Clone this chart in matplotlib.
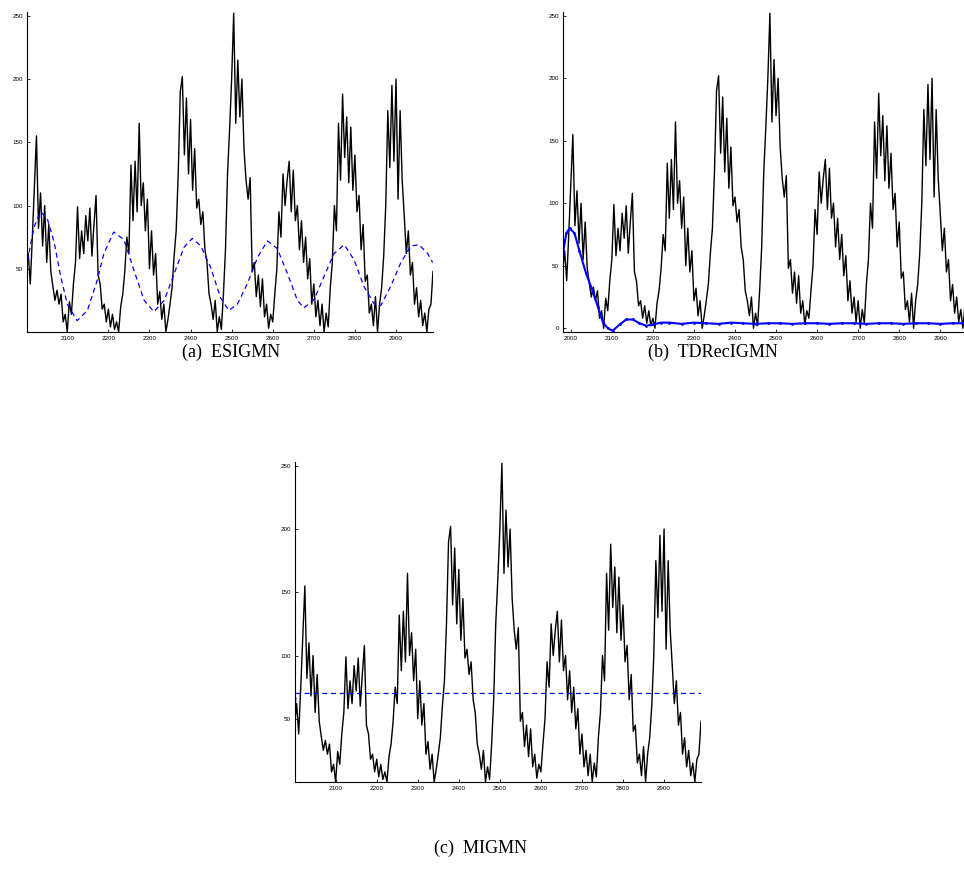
import numpy as np
import matplotlib
matplotlib.use("Agg")
import matplotlib.pyplot as plt

# observed series, sampled every 5 steps starting at t = 2000
t_start = 2000
t_step = 5
observed = [
    45, 62, 38, 75, 115, 155, 82, 110, 68, 100,
    55, 85, 48, 36, 25, 33, 22, 30, 8, 14,
    0, 24, 14, 38, 55, 99, 58, 80, 62, 92,
    72, 98, 60, 85, 108, 45, 38, 18, 22, 8,
    18, 4, 14, 2, 8, 0, 20, 30, 48, 75,
    62, 132, 88, 135, 95, 165, 100, 118, 80, 105,
    50, 80, 45, 62, 22, 32, 10, 22, 0, 10,
    22, 35, 60, 80, 125, 190, 202, 140, 185, 125,
    168, 112, 145, 98, 105, 85, 95, 65, 55, 30,
    22, 10, 25, 0, 12, 2, 30, 65, 125, 160,
    200, 252, 165, 215, 170, 200, 145, 120, 105, 122,
    48, 55, 28, 45, 20, 42, 12, 22, 3, 14,
    8, 30, 50, 95, 75, 125, 100, 120, 135, 95,
    128, 88, 100, 65, 88, 55, 75, 42, 58, 22,
    38, 12, 25, 5, 22, 0, 15, 4, 35, 55,
    100, 80, 165, 120, 188, 138, 170, 118, 162, 112,
    140, 95, 108, 65, 85, 40, 45, 15, 22, 5,
    28, 0, 22, 35, 60, 100, 175, 130, 195, 135,
    200, 105, 175, 120, 92, 62, 80, 45, 55, 22,
    35, 12, 25, 5, 15, 0, 18, 22, 48,
]

# ESIGMN prediction
esigmn_t = [2003, 2019, 2035, 2051, 2068, 2084, 2100, 2124, 2149, 2173,
            2189, 2213, 2238, 2262, 2287, 2311, 2336, 2360, 2384, 2404,
            2425, 2449, 2473, 2493, 2514, 2538, 2563, 2587, 2611, 2636,
            2660, 2676, 2701, 2725, 2749, 2774, 2798, 2822, 2847, 2863,
            2887, 2912, 2936, 2956, 2977, 2989]
esigmn_y = [56, 83, 95, 90, 71, 44, 22, 9, 17, 41,
            62, 79, 73, 49, 25, 16, 25, 46, 67, 74,
            68, 51, 27, 17, 22, 38, 59, 72, 66, 46,
            25, 19, 26, 44, 62, 69, 57, 36, 22, 21,
            36, 55, 68, 69, 62, 55]

# TDRecIGMN prediction (panel b has its own time axis)
tdrec_t = [1981, 1989, 1997, 2009, 2021, 2037, 2053, 2066, 2078, 2090,
           2102, 2119, 2135, 2151, 2167, 2184, 2200, 2220, 2240, 2270,
           2300, 2330, 2360, 2390, 2420, 2450, 2480, 2510, 2540, 2570,
           2600, 2630, 2660, 2690, 2720, 2750, 2780, 2810, 2840, 2870,
           2900, 2930, 2960, 2970]
tdrec_y = [60, 76, 80, 76, 62, 44, 30, 17, 5, 0,
           -2, 3, 7, 7, 4, 2, 3, 4.5, 4.5, 3.5,
           4.5, 4, 3.5, 4.5, 4, 3.5, 4, 4, 3.5, 4,
           4, 3.5, 4, 4, 3.5, 4, 4, 3.5, 4, 4,
           3.5, 4, 4, 4]
tdrec_shift = 20

# MIGMN prediction
migmn_t = [2001, 2004, 2990]
migmn_y = [56, 70, 70]

t = t_start + t_step * np.arange(len(observed))
obs = np.array(observed)

fig = plt.figure(figsize=(9.64, 8.71), dpi=100)
W, H = 964, 871


def make_ax(left, top, right, bottom):
    ax = fig.add_axes([left / W, 1 - bottom / H, (right - left) / W, (bottom - top) / H])
    ax.spines['top'].set_visible(False)
    ax.spines['right'].set_visible(False)
    ax.spines['left'].set_linewidth(0.8)
    ax.spines['bottom'].set_linewidth(0.8)
    ax.tick_params(direction='in', length=2.5, width=0.6, labelsize=4.5, pad=3)
    ax.set_yticks([50, 100, 150, 200, 250])
    return ax


# (a) ESIGMN
ax1 = make_ax(27, 12, 433, 332)
ax1.plot(t, obs, color='black', lw=1.0)
ax1.plot(esigmn_t, esigmn_y, color='blue', lw=0.9, ls=(0, (4, 3)))
ax1.set_xlim(2002, 2990)
ax1.set_ylim(0, 253)
ax1.set_xticks(np.arange(2100, 3000, 100))

# (b) TDRecIGMN
ax2 = make_ax(563, 12, 969, 332)
ax2.plot(t - tdrec_shift, obs, color='black', lw=1.0)
ax2.plot(tdrec_t, tdrec_y, color='blue', lw=1.5, marker='.', ms=2)
ax2.set_xlim(1981, 2970)
ax2.set_ylim(-3, 253)
ax2.set_yticks([0, 50, 100, 150, 200, 250])
ax2.set_xticks(np.arange(2000, 3000, 100))

# (c) MIGMN
ax3 = make_ax(295, 462, 701, 782)
ax3.plot(t, obs, color='black', lw=1.0)
ax3.plot(migmn_t, migmn_y, color='blue', lw=0.9, ls=(0, (4, 3)))
ax3.set_xlim(2001, 2990)
ax3.set_ylim(0, 253)
ax3.set_xticks(np.arange(2100, 3000, 100))

for ax in (ax1, ax2, ax3):
    for lab in ax.get_xticklabels() + ax.get_yticklabels():
        lab.set_family('Liberation Sans')
        lab.set_fontsize(4.5)

cap = dict(family='Liberation Serif', fontsize=13, ha='center', va='center')
fig.text(231 / W, 1 - 352 / H, '(a)  ESIGMN', **cap)
fig.text(713 / W, 1 - 352 / H, '(b)  TDRecIGMN', **cap)
fig.text(480 / W, 1 - 848 / H, '(c)  MIGMN', **cap)

fig.savefig('out.png', dpi=100)
